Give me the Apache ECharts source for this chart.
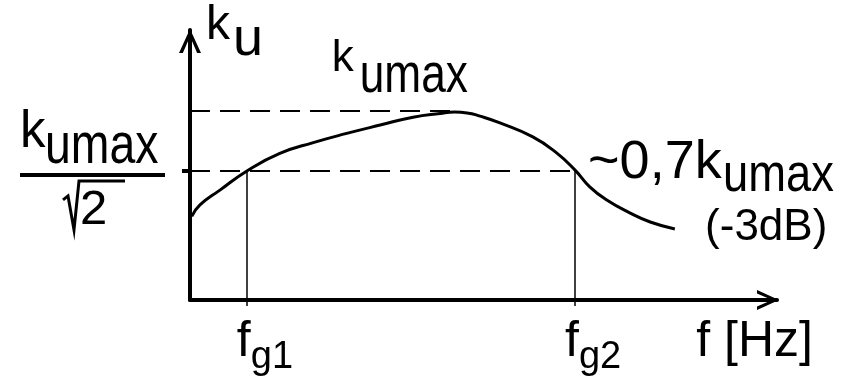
<!DOCTYPE html>
<html lang="en">
<head>
    <meta charset="UTF-8"/>
    <title>Amplitude response k_u(f)</title>
    <script src="https://cdn.jsdelivr.net/npm/echarts@6/dist/echarts.min.js"></script>
    <style>html, body { margin: 0; background: #fff; }</style>
</head>
<body>

<div id="main" style="width:843px; height:385px;"></div>
<script type="text/javascript">

    // curve (arbitrary units: x = frequency, y = gain)
    var freq = [0.3, 1.7, 5.1, 9.7, 15.3, 21.0, 26.7, 32.4, 38.0, 42.6, 45.1, 47.2, 49.4, 52.8, 58.4, 62.5, 65.6, 68.1, 71.0, 75.0, 78.4, 82.6];
    var gain = [31.0, 35.2, 40.7, 47.8, 54.3, 58.3, 61.7, 64.8, 67.7, 69.1, 69.6, 69.3, 68.1, 65.6, 60.4, 54.4, 48.1, 41.9, 37.0, 32.2, 28.9, 26.3];

    var kuMax = 70.2;      // level of k_umax
    var kuCut = 47.8;      // k_umax / sqrt(2)
    var peakFreq = 45.1;
    var fg1 = 9.7;
    var fg2 = 65.6;
    var fgNames = ['g1', 'g2'];

    var SANS = '"Liberation Sans", Arial, sans-serif';
    var arrow = 'path://M0,22 L10,0 L20,22 L16.5,22 L10,7 L3.5,22 Z';

    var myChart = echarts.init(document.getElementById('main'));

    var dashed = {color: '#000', width: 2, type: [20, 10]};
    var thin = {color: '#000', width: 1.5, type: 'solid'};

    var option = {
        animation: false,
        backgroundColor: '#fff',
        grid: {left: 190, right: 66, top: 30, bottom: 85, outerBoundsMode: 'none'},
        xAxis: {
            type: 'value', min: 0, max: 100,
            splitLine: {show: false},
            axisLine: {
                lineStyle: {color: '#000', width: 4},
                symbol: ['none', arrow], symbolSize: [20, 22], symbolOffset: [0, -9]
            },
            axisTick: {show: true, customValues: [fg1, fg2], length: 6, lineStyle: {color: '#000', width: 1.5}},
            axisLabel: {
                customValues: [fg1, fg2],
                margin: 17,
                padding: [0, 0, 0, 36],
                formatter: function (v) {
                    return '{f|f}{s|' + (v === fg1 ? fgNames[0] : fgNames[1]) + '}';
                },
                rich: {
                    f: {fontFamily: SANS, fontSize: 50, color: '#000', verticalAlign: 'top', lineHeight: 50},
                    s: {fontFamily: SANS, fontSize: 38, color: '#000', verticalAlign: 'top', lineHeight: 38, padding: [22, 0, 0, 0]}
                }
            },
            name: 'f [Hz]',
            nameLocation: 'end',
            nameGap: 36,
            nameTextStyle: {
                fontFamily: SANS, fontSize: 50, color: '#000',
                align: 'right', verticalAlign: 'top', padding: [17, 0, 0, 0]
            }
        },
        yAxis: {
            type: 'value', min: 0, max: 100,
            splitLine: {show: false},
            axisLine: {
                show: true,
                lineStyle: {color: '#000', width: 4},
                symbol: ['none', arrow], symbolSize: [22, 28], symbolOffset: [0, -11]
            },
            axisTick: {show: true, customValues: [kuCut], length: 8, lineStyle: {color: '#000', width: 4}},
            axisLabel: {show: false},
            name: '{k|k}{s|u}',
            nameLocation: 'end',
            nameGap: 28,
            nameTextStyle: {
                align: 'left', verticalAlign: 'top', padding: [0, 0, 0, 16],
                rich: {
                    k: {fontFamily: SANS, fontSize: 48, color: '#000', verticalAlign: 'top', lineHeight: 48},
                    s: {fontFamily: SANS, fontSize: 54, color: '#000', verticalAlign: 'top', lineHeight: 54, padding: [11, 0, 0, 3]}
                }
            }
        },
        series: [{
            type: 'line',
            data: freq.map(function (f, i) { return [f, gain[i]]; }),
            smooth: 0.5,
            showSymbol: false,
            lineStyle: {color: '#000', width: 3},
            z: 5,
            markLine: {
                silent: true,
                symbol: 'none',
                label: {show: false},
                z: 3,
                data: [
                    [{coord: [0, kuMax], lineStyle: dashed}, {coord: [peakFreq, kuMax]}],
                    [{coord: [0, kuCut], lineStyle: dashed}, {coord: [fg2, kuCut]}],
                    [{coord: [fg1, 0], lineStyle: thin}, {coord: [fg1, kuCut]}],
                    [{coord: [fg2, 0], lineStyle: thin}, {coord: [fg2, kuCut]}]
                ]
            }
        }]
    };

    myChart.setOption(option);

    // annotations anchored on chart coordinates
    var pPeak = myChart.convertToPixel({gridIndex: 0}, [peakFreq, kuMax]);
    var pLeft = myChart.convertToPixel({gridIndex: 0}, [0, kuCut]);
    var pRight = myChart.convertToPixel({gridIndex: 0}, [fg2, kuCut]);

    // text whose top edge sits at y; scaleX squeezes the tall narrow subscripts
    function txt(x, y, text, size, sx) {
        return {type: 'text', x: x, y: y, scaleX: sx || 1, silent: true,
            style: {text: '{t|' + text + '}', verticalAlign: 'top', align: 'left', fill: '#000',
                rich: {t: {fontFamily: SANS, fontSize: size, lineHeight: size, verticalAlign: 'top', color: '#000'}}}};
    }

    myChart.setOption({
        graphic: [
            {
                type: 'group', x: pPeak[0], y: pPeak[1],
                children: [
                    txt(-123, -74, 'k', 44),
                    txt(-95, -62, 'umax', 56, 0.79)
                ]
            },
            {
                type: 'group', x: pLeft[0], y: pLeft[1],
                children: [
                    txt(-170, -64, 'k', 51),
                    txt(-145, -53, 'umax', 58, 0.8),
                    {type: 'line', silent: true, shape: {x1: -170, y1: 4, x2: -25, y2: 4},
                        style: {stroke: '#000', lineWidth: 4}},
                    {type: 'polyline', silent: true,
                        shape: {points: [[-127, 29], [-122, 25], [-116, 59], [-111, 10], [-65, 10]]},
                        style: {stroke: '#000', lineWidth: 3, fill: null}},
                    txt(-110, 15, '2', 49)
                ]
            },
            {
                type: 'group', x: pRight[0], y: pRight[1],
                children: [
                    txt(13, -35, '~0,7k', 54),
                    txt(148, -22, 'umax', 54, 0.84),
                    txt(130, 35, '(-3dB)', 44)
                ]
            }
        ]
    });
</script>

</body>
</html>
